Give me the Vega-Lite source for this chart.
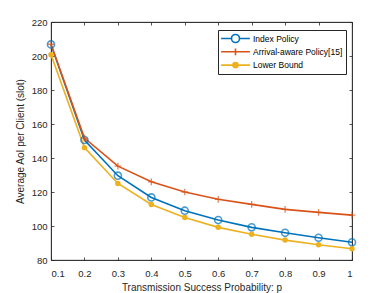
{
  "$schema": "https://vega.github.io/schema/vega-lite/v6.json",
  "autosize": "none",
  "width": 301,
  "height": 238,
  "padding": {"left": 51, "top": 22, "right": 38, "bottom": 33},
  "background": "white",
  "config": {
    "font": "Liberation Sans",
    "view": {"stroke": "#262626", "strokeWidth": 0.8},
    "axis": {"grid": false, "domainColor": "#262626", "domainWidth": 0.8, "tickColor": "#262626", "tickWidth": 0.8, "labelColor": "#262626", "titleColor": "#262626", "labelFontSize": 9.5, "titleFontSize": 10, "titleFontWeight": "normal"}
  },
  "data": {"values": [
    {"p": 0.1, "series": "Index Policy", "aoi": 206.8},
    {"p": 0.2, "series": "Index Policy", "aoi": 150.6},
    {"p": 0.3, "series": "Index Policy", "aoi": 129.6},
    {"p": 0.4, "series": "Index Policy", "aoi": 116.8},
    {"p": 0.5, "series": "Index Policy", "aoi": 109.0},
    {"p": 0.6, "series": "Index Policy", "aoi": 103.5},
    {"p": 0.7, "series": "Index Policy", "aoi": 99.2},
    {"p": 0.8, "series": "Index Policy", "aoi": 96.0},
    {"p": 0.9, "series": "Index Policy", "aoi": 93.1},
    {"p": 1.0, "series": "Index Policy", "aoi": 90.4},
    {"p": 0.1, "series": "Arrival-aware Policy[15]", "aoi": 206.9},
    {"p": 0.2, "series": "Arrival-aware Policy[15]", "aoi": 151.7},
    {"p": 0.3, "series": "Arrival-aware Policy[15]", "aoi": 135.2},
    {"p": 0.4, "series": "Arrival-aware Policy[15]", "aoi": 126.0},
    {"p": 0.5, "series": "Arrival-aware Policy[15]", "aoi": 120.0},
    {"p": 0.6, "series": "Arrival-aware Policy[15]", "aoi": 115.7},
    {"p": 0.7, "series": "Arrival-aware Policy[15]", "aoi": 112.7},
    {"p": 0.8, "series": "Arrival-aware Policy[15]", "aoi": 109.8},
    {"p": 0.9, "series": "Arrival-aware Policy[15]", "aoi": 108.0},
    {"p": 1.0, "series": "Arrival-aware Policy[15]", "aoi": 106.4},
    {"p": 0.1, "series": "Lower Bound", "aoi": 200.8},
    {"p": 0.2, "series": "Lower Bound", "aoi": 146.1},
    {"p": 0.3, "series": "Lower Bound", "aoi": 125.0},
    {"p": 0.4, "series": "Lower Bound", "aoi": 112.7},
    {"p": 0.5, "series": "Lower Bound", "aoi": 105.0},
    {"p": 0.6, "series": "Lower Bound", "aoi": 99.2},
    {"p": 0.7, "series": "Lower Bound", "aoi": 95.1},
    {"p": 0.8, "series": "Lower Bound", "aoi": 91.7},
    {"p": 0.9, "series": "Lower Bound", "aoi": 89.0},
    {"p": 1.0, "series": "Lower Bound", "aoi": 86.6}
  ]},
  "layer": [
    {
      "mark": {"type": "line", "strokeWidth": 1.6},
      "encoding": {
        "x": {"field": "p", "type": "quantitative", "scale": {"domain": [0.1, 1]},
              "axis": {"values": [0.1,0.2,0.3,0.4,0.5,0.6,0.7,0.8,0.9,1], "format": ".1~f", "tickSize": -3, "labelPadding": 11, "title": "Transmission Success Probability: p", "titlePadding": 5}},
        "y": {"field": "aoi", "type": "quantitative", "scale": {"domain": [80, 220]},
              "axis": {"values": [80,100,120,140,160,180,200,220], "tickSize": -3, "labelPadding": 7, "title": "Average AoI per Client (slot)", "titlePadding": 6}},
        "color": {"field": "series", "type": "nominal",
                  "scale": {"domain": ["Index Policy", "Arrival-aware Policy[15]", "Lower Bound"], "range": ["#0072BD", "#D95319", "#EDB120"]},
                  "legend": {"title": null, "orient": "none", "legendX": 167, "legendY": 8, "direction": "vertical",
                             "strokeColor": "#262626", "fillColor": "white", "padding": 3, "rowPadding": 2.3, "clipHeight": 11,
                             "labelFontSize": 8.5, "labelColor": "#000000", "symbolSize": 64, "symbolStrokeWidth": 1.6,
                             "symbolOffset": 9.5, "labelOffset": 12.5,
                             "encode": {"symbols": {"update": {
                               "shape": {"signal": "datum.value === 'Index Policy' ? 'M-3.6,0H-1A1,1 0 1 1 1,0A1,1 0 1 1 -1,0M1,0H3.6' : datum.value === 'Lower Bound' ? 'M-3.6,0H3.6M-0.65,0A0.65,0.65 0 1 1 0.65,0A0.65,0.65 0 1 1 -0.65,0Z' : 'M-3.6,0H3.6M0,-0.85V0.85'"},
                               "fill": {"signal": "datum.value === 'Lower Bound' ? '#EDB120' : 'transparent'"}
                             }}}}}
      }
    },
    {
      "mark": {"type": "point", "strokeWidth": 1.6, "size": 50},
      "transform": [{"filter": "datum.series === 'Index Policy'"}],
      "encoding": {
        "x": {"field": "p", "type": "quantitative", "axis": null},
        "y": {"field": "aoi", "type": "quantitative", "axis": null},
        "color": {"value": "#0072BD"}
      }
    },
    {
      "mark": {"type": "point", "shape": "M-1,0H1M0,-1V1", "strokeWidth": 1.3, "size": 45},
      "transform": [{"filter": "datum.series === 'Arrival-aware Policy[15]'"}],
      "encoding": {
        "x": {"field": "p", "type": "quantitative", "axis": null},
        "y": {"field": "aoi", "type": "quantitative", "axis": null},
        "color": {"value": "#D95319"}
      }
    },
    {
      "mark": {"type": "point", "filled": true, "size": 30, "opacity": 1},
      "transform": [{"filter": "datum.series === 'Lower Bound'"}],
      "encoding": {
        "x": {"field": "p", "type": "quantitative", "axis": null},
        "y": {"field": "aoi", "type": "quantitative", "axis": null},
        "color": {"value": "#EDB120"}
      }
    },
    {
      "mark": {"type": "rule", "opacity": 0},
      "data": {"values": [{"p": 0.1, "aoi": 80}]},
      "encoding": {
        "x": {"field": "p", "type": "quantitative", "axis": {"orient": "top", "values": [0.1,0.2,0.3,0.4,0.5,0.6,0.7,0.8,0.9,1], "labels": false, "tickSize": -3, "title": null}},
        "y": {"field": "aoi", "type": "quantitative", "axis": {"orient": "right", "values": [80,100,120,140,160,180,200,220], "labels": false, "tickSize": -3, "title": null}}
      }
    }
  ],
  "resolve": {"axis": {"x": "independent", "y": "independent"}}
}
